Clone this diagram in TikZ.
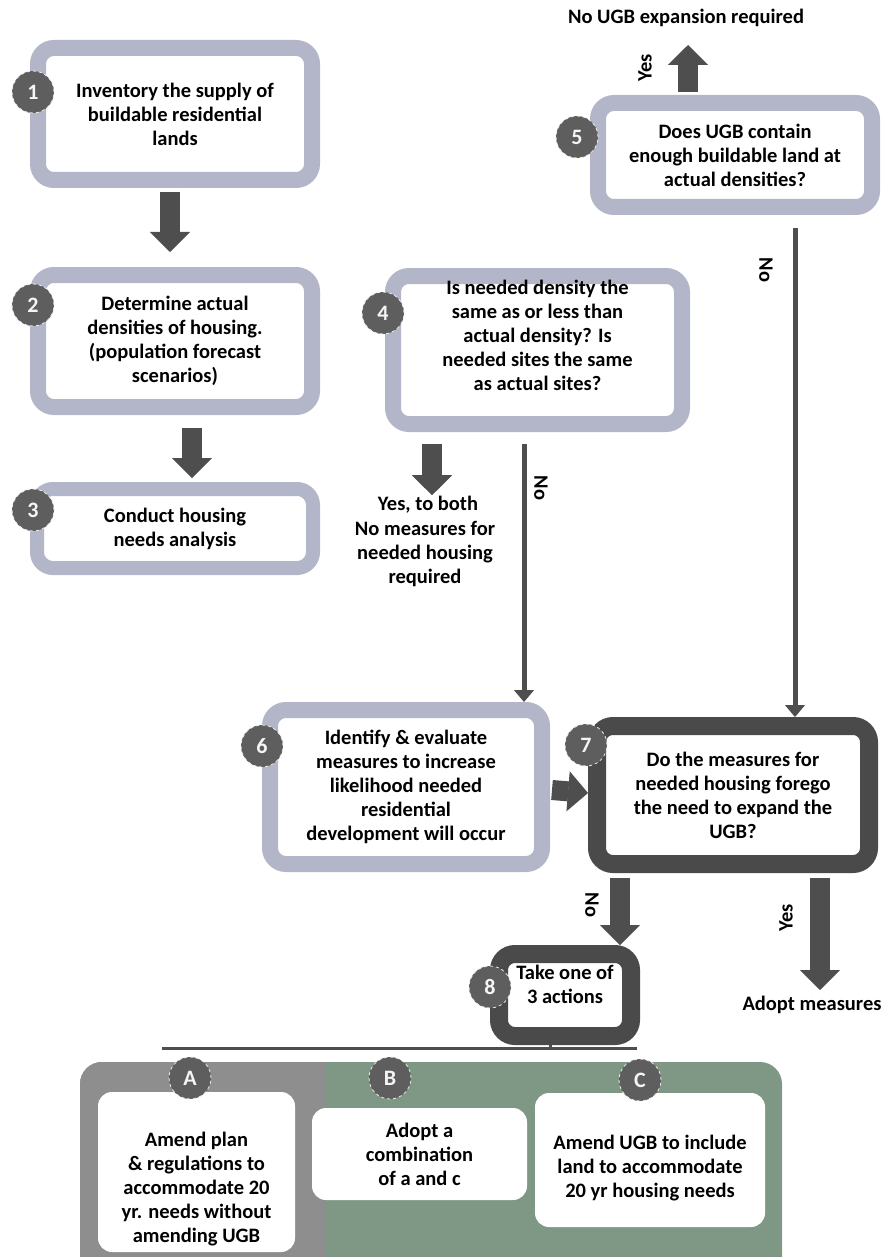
\documentclass[tikz,border=0pt]{standalone}
\usepackage{fontspec}
\setmainfont{Carlito}
\usetikzlibrary{arrows.meta,calc}
\definecolor{lightframe}{HTML}{B3B6C8}
\definecolor{darkframe}{HTML}{4A4A4A}
\definecolor{arrowgray}{HTML}{4E4E4E}
\definecolor{badgegray}{HTML}{5E5E5E}
\definecolor{leftgray}{HTML}{8E8E8E}
\definecolor{greengray}{HTML}{7E9885}
\begin{document}
\begin{tikzpicture}[x=1pt,y=-1pt,
  font=\bfseries\fontsize{20.5}{24}\selectfont,
  lbox/.style={draw=lightframe, line width=16pt, fill=white, rounded corners=16pt, inner sep=0pt, align=center},
  dbox/.style={draw=darkframe, line width=18pt, fill=white, rounded corners=16pt, inner sep=0pt, align=center},
  wbox/.style={fill=white, rounded corners=14pt, inner sep=0pt, align=center},
  badge/.style={circle, fill=badgegray, draw=white!85!gray, dashed, line width=0.8pt, minimum size=42pt, inner sep=0pt, text=white!92!gray, font=\bfseries\fontsize{22}{22}\selectfont},
  barrow/.style={draw=arrowgray, line width=20pt, -{Triangle[width=40pt,length=20pt,line width=1pt]}},
  tarrow/.style={draw=arrowgray, line width=5pt, -{Triangle[width=20pt,length=12pt,line width=1pt]}},
  tline/.style={draw=arrowgray, line width=3pt},
  lbl/.style={align=center, inner sep=1pt}
]
\useasboundingbox (0,0) rectangle (886,1257);

% bottom frame
\begin{scope}
  \clip (0,0) rectangle (886,1257);
  \fill[greengray, rounded corners=22pt] (80,1062) rectangle (782,1300);
  \begin{scope}
    \clip (0,0) rectangle (325,1257);
    \fill[leftgray, rounded corners=22pt] (80,1062) rectangle (782,1300);
  \end{scope}
\end{scope}

% boxes
\node[lbox, minimum width=274pt, minimum height=132pt] (b1) at (175,114) {Inventory the supply of\\buildable residential\\lands};
\node[lbox, minimum width=274pt, minimum height=132pt] (b2) at (175,341) {Determine actual\\densities of housing.\\(population forecast\\scenarios)};
\node[lbox, line width=14pt, minimum width=276pt, minimum height=79pt] (b3) at (175,528.5) {Conduct housing\\needs analysis};
\node[lbox, minimum width=289pt, minimum height=148pt] (b4) at (537.5,350) {Is needed density the\\same as or less than\\actual density? Is\\needed sites the same\\as actual sites?\rule[-29pt]{0pt}{29pt}};
\node[lbox, minimum width=274pt, minimum height=104pt] (b5) at (735,155) {Does UGB contain\\enough buildable land at\\actual densities?};
\node[lbox, minimum width=272pt, minimum height=154pt] (b6) at (406,787) {Identify \& evaluate\\measures to increase\\likelihood needed\\residential\\development will occur};
\node[dbox, minimum width=272pt, minimum height=138pt] (b7) at (733,795) {Do the measures for\\needed housing forego\\the need to expand the\\UGB?};
\node[dbox, minimum width=132pt, minimum height=82pt] (b8) at (565,995) {Take one of\\3 actions\rule[-21pt]{0pt}{21pt}};

\node[wbox, minimum width=197pt, minimum height=160pt] (tA) at (196.5,1172) {\rule{0pt}{49pt}Amend plan\\\& regulations to\\accommodate 20\\yr. needs without\\amending UGB};
\node[wbox, minimum width=215pt, minimum height=92pt] (tB) at (419.5,1154) {Adopt a\\combination\\of a and c};
\node[wbox, minimum width=230pt, minimum height=134pt] (tC) at (650,1160) {\rule{0pt}{31pt}Amend UGB to include\\land to accommodate\\20 yr housing needs};

% badges
\node[badge] (n1) at (33,92) {1};
\node[badge] (n2) at (33,305) {2};
\node[badge] (n3) at (33,510) {3};
\node[badge] (n4) at (383,313) {4};
\node[badge] (n5) at (577,137) {5};
\node[badge] (n6) at (262,746) {6};
\node[badge] (n7) at (586,745) {7};
\node[badge] (n8) at (490,987) {8};
\node[badge] (nA) at (190,1078) {A};
\node[badge] (nB) at (390,1078) {B};
\node[badge] (nC) at (640,1080) {C};

% free labels
\node[lbl] (noexp) at (686,18) {No UGB expansion required};
\node[lbl] (yesboth) at (428,505) {Yes, to both};
\node[lbl] (nomeas) at (425,554) {No measures for\\needed housing\\required};
\node[lbl] (adopt) at (812,1005) {Adopt measures};
\node[lbl, rotate=90] (yes5) at (645,68) {Yes};
\node[lbl, rotate=-90] (no5) at (766,270) {No};
\node[lbl, rotate=-90] (no4) at (541,488) {No};
\node[lbl, rotate=-90] (no7) at (592,905) {No};
\node[lbl, rotate=90] (yes7) at (786,918) {Yes};

% connectors
\draw[barrow] ($(b1.south)+(-5,4)$) -- ($(b2.north)+(-5,-15)$);
\draw[barrow] ($(b2.south)+(17,13)$) -- ($(b3.north)+(17,-4)$);
\draw[barrow] ($(b4.south)+(-105.5,12)$) -- (yesboth.north -| 432,0);
\draw[tarrow] ($(b4.south)+(-13.5,12)$) -- (b6.north -| 524,0);
\draw[barrow] ($(b5.north)+(-47,-3)$) -- ($(b5.north)+(-47,-50)$);
\draw[tarrow] ($(b5.south)+(60,13)$) -- (b7.north -| 795,0);
\draw[barrow] (b6.east) ++(2,3) -- ($(b7.west)+(0,-2)$);
\draw[barrow] ($(b7.south)+(-113,5)$) -- ($(b8.north)+(55,0)$);
\draw[barrow] ($(b7.south)+(87,5)$) -- ($(adopt.north)+(8,-5)$);
\coordinate (hL) at ($(nA.north)+(-28,-8)$);
\coordinate (hR) at ($(nC.north)+(-3,-10)$);
\draw[tline] (b8.south) ++(-15,0) -- (hL -| 550,0);
\draw[tline] (hL) -- (hR);
\end{tikzpicture}
\end{document}
